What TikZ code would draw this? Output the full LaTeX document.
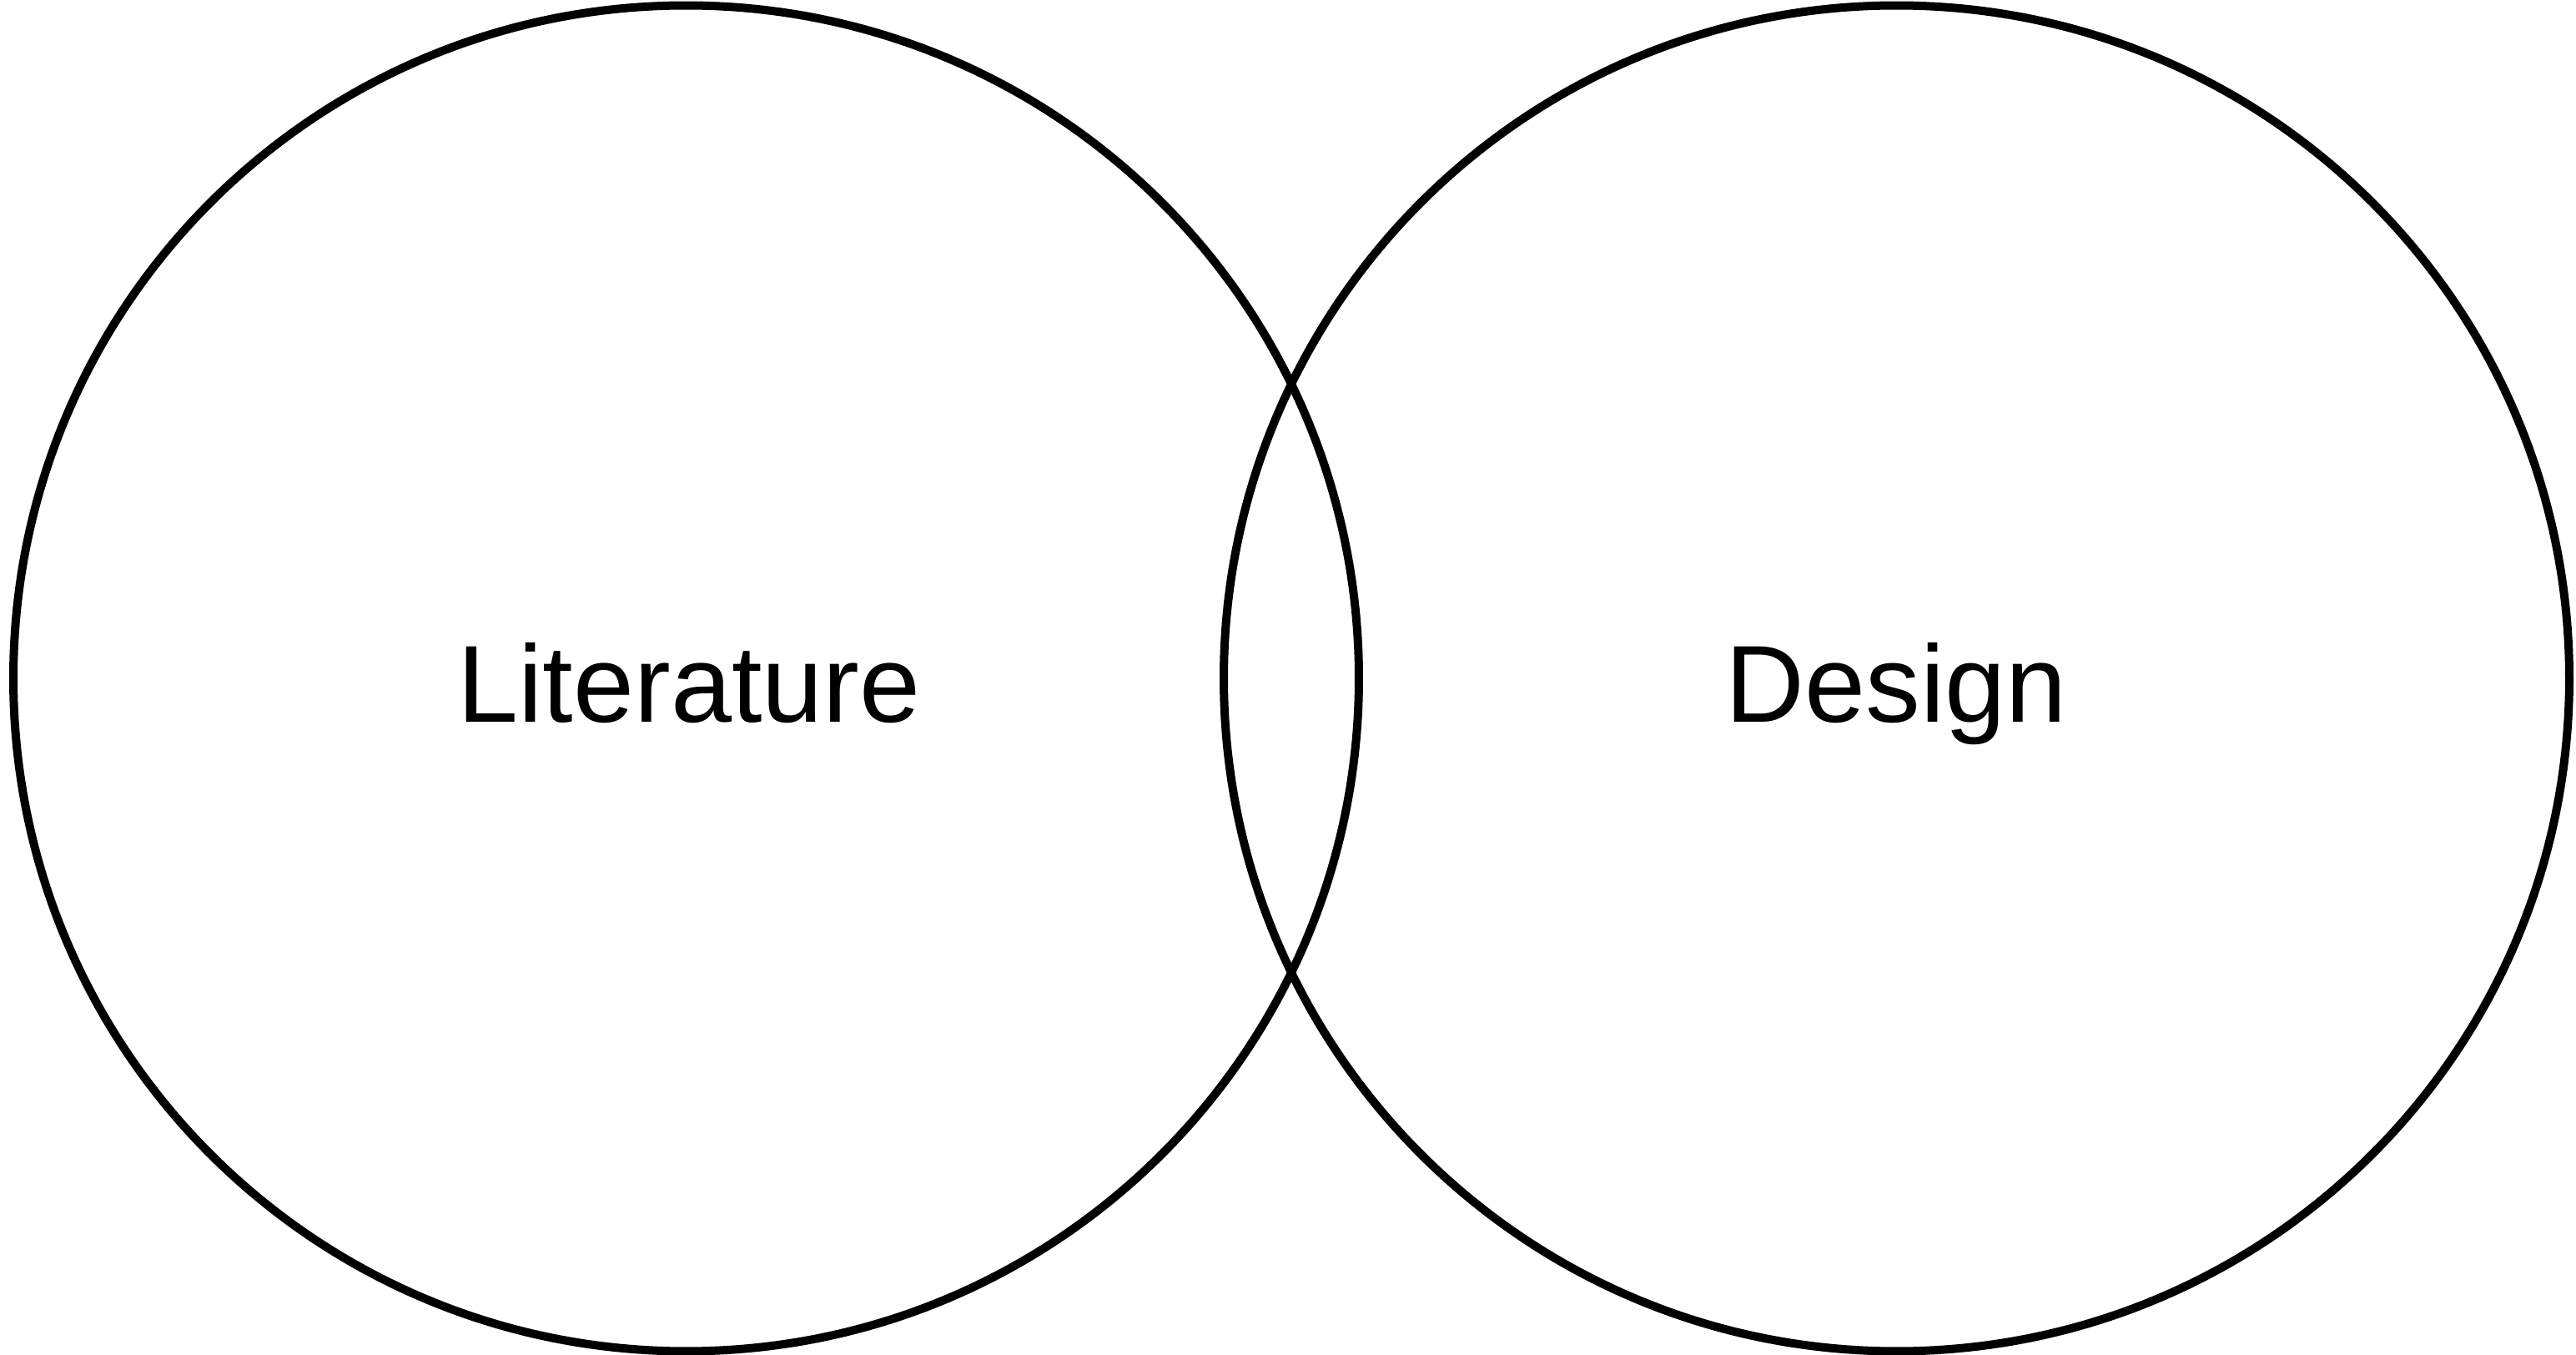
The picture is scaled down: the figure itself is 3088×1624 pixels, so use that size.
\documentclass[tikz,border=0pt]{standalone}
\usepackage{fontspec}
\setmainfont{Liberation Sans}
\begin{document}
\begin{tikzpicture}[x=0.24pt,y=-0.24pt,
  ring/.style={circle,draw=black,line width=2.4pt,minimum size=387.12pt,inner sep=0pt},
  label/.style={anchor=base,font=\fontsize{31.5pt}{36pt}\selectfont,inner sep=0pt}]
\useasboundingbox[fill=white] (0,0) rectangle (3088,1624);
\node[ring] (lit) at (822.5,813) {};
\node[ring] (des) at (2273.5,813) {};
\node[label] (littext) at (826,866) {Literature};
\node[label] (destext) at (2273,866) {Design};
\end{tikzpicture}
\end{document}
